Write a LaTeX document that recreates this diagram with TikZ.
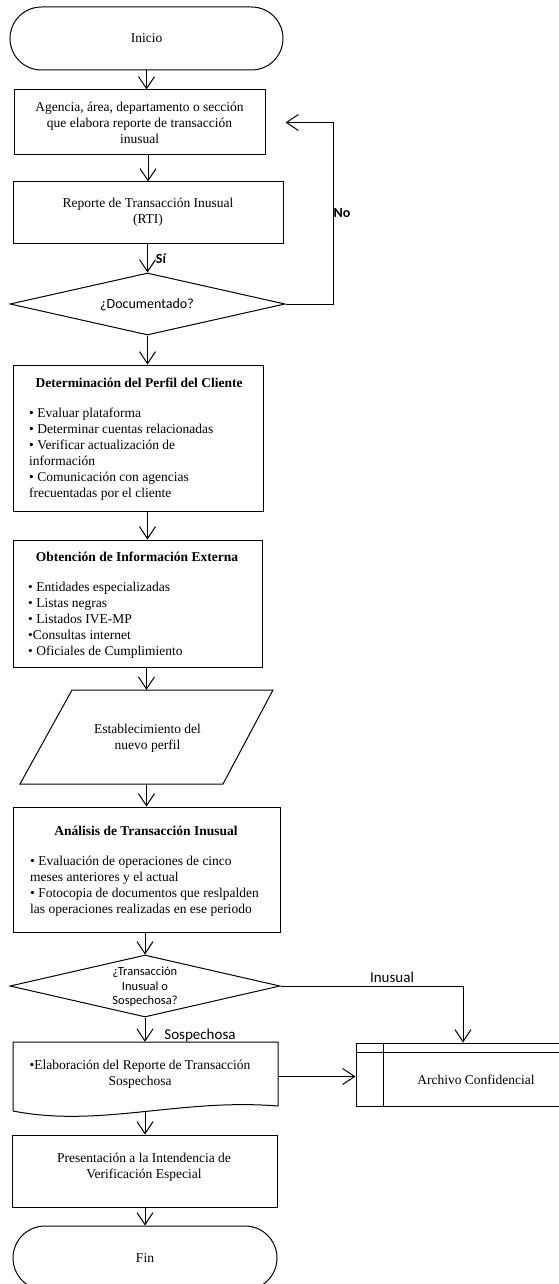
\documentclass[tikz,border=0pt]{standalone}
\usepackage{fontspec}
\setmainfont{Liberation Serif}
\newfontfamily\calfont{Carlito}
\usetikzlibrary{shapes.geometric,shapes.misc,arrows.meta}
\begin{document}
\begin{tikzpicture}[x={(1pt,0pt)},y={(0pt,-1pt)},
  ln/.style={line width=1pt},
  arr/.style={ln,-{Straight Barb[length=12pt,width=16pt,line width=1pt]}},
  tx/.style={font=\fontsize{13.5}{16}\selectfont,align=center,inner sep=0pt},
  ttl/.style={font=\fontsize{13.5}{16}\selectfont\bfseries,align=center,inner sep=0pt},
  body/.style={font=\fontsize{13.5}{16}\selectfont,align=left,inner sep=0pt,anchor=west},
  lbl/.style={font=\calfont\fontsize{15}{17}\selectfont,inner sep=0pt},
  boxA/.style={draw,ln,rectangle,inner sep=0pt},
  stad/.style={draw,ln,rounded rectangle,inner sep=0pt},
  dia/.style={draw,ln,diamond,inner sep=0pt}]
\fill[white] (0,0) rectangle (558,1284);
\useasboundingbox (0,0) rectangle (558,1284);

% Inicio
\node[stad,minimum width=273pt,minimum height=63pt,tx] (ini) at (146.5,38.5) {Inicio};

% Box 1
\node[boxA,minimum width=251pt,minimum height=65pt,tx] (b1) at (139.5,122.5)
  {Agencia, área, departamento o sección\\que elabora reporte de transacción\\inusual};

% Box 2
\node[boxA,minimum width=270pt,minimum height=61pt,tx] (b2) at (148,212.5)
  {Reporte de Transacción Inusual\\(RTI)};

% Diamond 1
\node[dia,minimum width=275pt,minimum height=62pt] (d1) at (147.5,304) {};
\node[lbl,font=\calfont\fontsize{14}{16}\selectfont] (d1t) at (147,305) {¿Documentado?};
\node[lbl,font=\calfont\bfseries\fontsize{14}{16}\selectfont] (si) at (161,259) {Sí};
\node[lbl,font=\calfont\bfseries\fontsize{14}{16}\selectfont] (no) at (342,213) {No};

% Box 3
\node[boxA,minimum width=250pt,minimum height=146pt] (b3) at (138,438) {};
\node[ttl] (b3t) at (139,383) {Determinación del Perfil del Cliente};
\node[body] (b3b) at (29,454.5) {• Evaluar plataforma\\• Determinar cuentas relacionadas\\• Verificar actualización de\\información\\• Comunicación con agencias\\frecuentadas por el cliente};

% Box 4
\node[boxA,minimum width=249pt,minimum height=127pt] (b4) at (137.5,603.5) {};
\node[ttl] (b4t) at (137,557) {Obtención de Información Externa};
\node[body] (b4b) at (28,620.5) {• Entidades especializadas\\• Listas negras\\• Listados IVE-MP\\•Consultas internet\\• Oficiales de Cumplimiento};

% Parallelogram
\node[inner sep=0pt,minimum width=150pt,minimum height=94pt] (est) at (146.5,737) {};
\draw[ln] (72,690) -- (273,690) -- (223,784) -- (20,784) -- cycle;
\node[tx] (estt) at (147.5,738.5) {Establecimiento del\\nuevo perfil};

% Box 5
\node[boxA,minimum width=267pt,minimum height=125pt] (b5) at (146.5,869.5) {};
\node[ttl] (b5t) at (146,831) {Análisis de Transacción Inusual};
\node[body] (b5b) at (30,886.5) {• Evaluación de operaciones de cinco\\meses anteriores y el actual\\• Fotocopia de documentos que reslpalden\\las operaciones realizadas en ese periodo};

% Diamond 2
\node[dia,minimum width=270pt,minimum height=62pt] (d2) at (145,986) {};
\node[lbl,align=center,font=\calfont\fontsize{12.5}{14.5}\selectfont] (d2t) at (145,987) {¿Transacción\\Inusual o\\Sospechosa?};
\node[lbl] (sosp) at (200,1035) {Sospechosa};
\node[lbl] (inus) at (392,977) {Inusual};

% Elaboracion (document shape)
\node[inner sep=0pt,minimum width=265pt,minimum height=69pt] (el) at (145.5,1076.5) {};
\draw[ln] (278,1106) -- (278,1042) -- (13,1042) -- (13,1111)
  .. controls (100,1128) and (180,1098) .. (278,1106);
\node[tx] (elt) at (140,1074.5) {•Elaboración del Reporte de Transacción\\Sospechosa};

% Archivo confidencial
\node[boxA,minimum width=214pt,minimum height=63pt] (arch) at (463,1074.5) {};
\draw[ln] (383,1043) -- (383,1106);
\draw[ln] (356,1052) -- (570,1052);
\node[tx] (archt) at (476,1080) {Archivo Confidencial};

% Presentacion
\node[boxA,minimum width=265pt,minimum height=72pt] (pres) at (144.5,1171) {};
\node[tx] (prest) at (144,1167) {Presentación a la Intendencia de\\Verificación Especial};

% Fin
\node[stad,minimum width=264pt,minimum height=64pt,tx] (fin) at (145,1258) {Fin};

% Connectors
\draw[arr] (ini.south) -- (ini.south |- b1.north);
\draw[arr] (b1.south -| b2.north) -- (b2.north);
\draw[arr] (b2.south -| d1.north) -- (d1.north);
\draw[arr] (d1.east) -- ++(48,0) |- ([xshift=20pt]b1.east);
\draw[arr] (d1.south) -- (d1.south |- b3.north);
\draw[arr] (b3.south -| d1.south) -- (b4.north -| d1.south);
\draw[arr] (b4.south -| est.north) -- (est.north);
\draw[arr] (est.south) -- (est.south |- b5.north);
\draw[arr] (b5.south -| d2.north) -- (d2.north);
\draw[arr] (d2.east) -| (arch.north);
\draw[arr] (d2.south) -- (d2.south |- el.north);
\draw[arr] (el.east) -- (el.east -| arch.west);
\draw[arr] (d2.south |- el.south) -- (d2.south |- pres.north);
\draw[arr] (pres.south -| fin.north) -- (fin.north);
\end{tikzpicture}
\end{document}
